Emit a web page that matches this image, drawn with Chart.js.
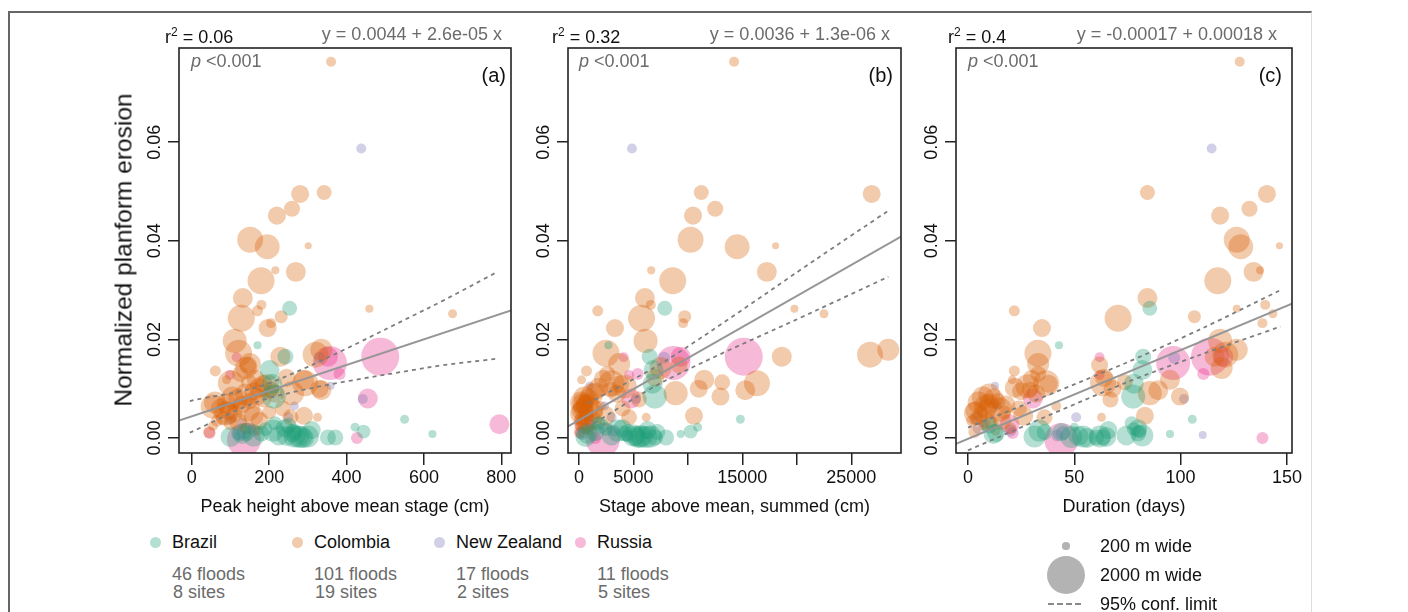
<!DOCTYPE html>
<html>
<head>
<meta charset="utf-8">
<script src="https://cdn.jsdelivr.net/npm/chart.js@4.4.1/dist/chart.umd.min.js"></script>
<style>
body { margin: 0; width: 1408px; height: 612px; overflow: hidden; position: relative; background: #fff;
       font-family: "Liberation Sans", Arial, sans-serif; color: #111; }
canvas { position: absolute; top: 0; }
.frame { position: absolute; left: 8px; top: 11px; width: 1301px; height: 640px;
         border-top: 2px solid #666; border-left: 2px solid #666; border-right: 1px solid #ddd; }
.t { position: absolute; font-size: 18px; line-height: 18px; white-space: nowrap; z-index: 2; }
.grey { color: #6b6b6b; }
.dot { position: absolute; border-radius: 50%; z-index: 2; }
</style>
</head>
<body>
<div class="frame"></div>
<canvas id="chartA" width="421" height="530" style="left:109px"></canvas>
<canvas id="chartB" width="422" height="530" style="left:498px"></canvas>
<canvas id="chartC" width="434" height="530" style="left:886px"></canvas>
<div id="overlay"></div>

<script>
// country groups
const countries = ['Brazil', 'Colombia', 'New Zealand', 'Russia'];
const countryColors = ['rgba(27,158,119,0.33)', 'rgba(217,95,2,0.33)', 'rgba(117,112,179,0.33)', 'rgba(231,41,138,0.33)'];
const floodCounts = [46, 101, 17, 11];
const siteCounts = [8, 19, 2, 5];

// Brazil floods
const brazilErosion = [0.0263,0.0188,0.0165,0.0138,0.0110,0.0084,0.0038,0.0008,0.0022,0.0013,0.0001,0.0001,0.0003,0.0002,0.0015,0.0020,0.0005,0.0010,0.0025,0.0003,0.0012,0.0008,0.0018,0.0030,0.0005,0.0002,0.0000,0.0012,0.0004,0.0016,0.0009,0.0003];
const brazilWidth = [660,260,720,950,950,1190,310,260,310,600,720,720,1070,1070,1070,840,950,840,720,1070,840,950,600,600,1070,950,950,720,950,840,720,1070];
const brazilPeak = [253,170,242,201,208,212,550,622,422,444,352,371,275,282,210,240,225,260,250,300,140,130,190,215,160,100,290,265,245,310,180,265];
const brazilStage = [7880,2710,6500,6850,6760,6970,14820,9340,10900,10250,8000,7000,5800,6200,3560,4000,3000,4500,2000,6600,1500,800,2500,1800,5000,600,5400,7200,5200,6300,4200,5600];
const brazilDuration = [85.5,42.8,82.4,82,78,77.7,105.5,95,50,80.8,63.5,60.4,54.1,48.6,33.6,80,74.5,13.2,10,31.3,43.9,12,78,77,82,65,56,36,52,66,80,62];

// Colombia floods
const colombiaErosion = [0.0763,0.0498,0.0495,0.0465,0.0451,0.0402,0.0388,0.0390,0.0340,0.0337,
  0.0319,0.0284,0.0243,0.0258,0.0246,0.0223,0.0233,0.0197,0.0172,0.0262,
  0.0252,0.0270,0.0179,0.0169,0.0165,0.0111,0.0097,0.0113,0.0084,0.0091,
  0.0045,0.0042,0.0148,0.0111,0.0064,0.0050,0.0136,0.0142,0.0072,0.0060,
  0.0055,0.0048,0.0040,0.0035,0.0080,0.0088,0.0095,0.0102,0.0075,0.0068,
  0.0030,0.0025,0.0020,0.0015,0.0012,0.0120,0.0130,0.0150,0.0105,0.0090,
  0.0060,0.0042,0.0078,0.0122,0.0065,0.0118,0.0035,0.0100,0.0118,
  0.0058,0.0082,0.0045,0.0110,0.0070,0.0033,0.0098,0.0052];
const colombiaWidth = [370,660,840,720,840,1300,1240,200,260,950,
  1360,950,1360,430,550,840,370,1190,1360,260,
  310,370,1070,1300,950,1300,950,720,840,1190,
  840,310,780,1300,1190,1190,430,1070,1070,950,
  840,720,600,490,950,1070,840,950,720,840,
  600,370,490,370,490,840,720,1070,1190,840,
  720,720,720,840,370,310,840,840,950,
  1190,1070,950,840,950,840,720,600];
const colombiaPeak = [360,342,280,259,220,151,195,301,216,269,
  179,132,128,170,231,196,205,111,121,459,
  674,180,335,320,229,293,335,148,169,259,
  290,325,146,101,54,89,61,140,60,75,
  95,110,80,65,120,140,160,175,150,130,
  100,55,140,170,45,165,125,150,195,215,
  235,255,185,245,110,90,175,330,290,
  145,105,160,185,90,120,205,200];
const colombiaStage = [14240,11230,26870,12510,10470,10250,14520,18050,6640,17250,
  8610,6060,5750,1730,9710,3310,9560,6120,2490,19780,
  22490,6600,28390,26720,18620,16340,15270,13150,12990,8880,
  10560,6180,9190,3000,800,300,700,7500,200,400,
  150,600,250,100,900,1200,1500,1800,700,500,
  350,50,800,1000,80,2200,2600,3700,4200,3500,
  4000,4600,5500,7000,2000,250,1300,11000,11500,
  1100,500,2400,3800,300,700,2900,1600];
const colombiaDuration = [127.8,84.4,140.6,132.4,118.6,126.4,128.3,146.5,137.4,134.3,
  117.5,84.4,70.6,21.8,106.5,34.8,138.5,118.6,32.9,126.4,
  143.4,139.8,126.4,121,116,63.5,89.5,73.7,99.7,85.5,
  83.2,62.8,61.9,36.8,8.5,3.8,21.8,119.3,5,9,
  3,6,4,2,12,10,25,22,14,18,
  11,7,20,13,3,30,33,33,28,32,
  24,36,67,64,41.5,20.8,16,68,95,
  15,7,26,38,10,9,29,17];

// New Zealand floods
const nzErosion = [0.0587,0.0106,0.0065,0.0042,0.0079,0.0006,0.0010,0.0020,0.0030,0.0163,0.0040,0.0015,0.0005];
const nzWidth = [370,260,310,370,370,260,600,490,370,490,490,490,490];
const nzPeak = [438,359,265,250,442,140,120,150,130,330,100,160,125];
const nzStage = [4870,980,2350,3000,5230,6120,300,500,900,7820,1000,3200,4400];
const nzDuration = [114.6,12.7,13.7,50.9,101.6,110.4,44.7,5,8,97,4,20,42];

// Russia floods
const russiaErosion = [0.0165,0.0152,0.0165,0.0130,0.0080,0.0000,0.0028,0.0164,0.0128,0.0010,-0.0004];
const russiaWidth = [2000,1770,950,490,950,490,950,370,370,490,1770];
const russiaPeak = [487,357,352,382,455,427,795,116,99,46,135];
const russiaStage = [15130,8670,9340,5390,4780,1500,520,4110,4600,200,2190];
const russiaDuration = [113.8,96.5,120.1,110.7,30.5,138.5,19.5,61.9,61.9,21,43.9];

// axes
const yTicks = [0, 0.02, 0.04, 0.06];
const xTicksA = [0, 200, 400, 600, 800];
const xLabelsA = ['0', '200', '400', '600', '800'];
const xTicksB = [0, 5000, 10000, 15000, 20000, 25000];
const xLabelsB = ['0', '5000', '', '15000', '', '25000'];
const xTicksC = [0, 50, 100, 150];
const xLabelsC = ['0', '50', '100', '150'];

// fitted lines and 95% confidence limits
const fitIntercept = [0.0044, 0.0036, -0.00017];
const fitSlope = [2.6e-5, 1.26e-6, 0.00018];
const rSquared = ['0.06', '0.32', '0.4'];
const fitLabels = ['y = 0.0044 + 2.6e-05 x', 'y = 0.0036 + 1.3e-06 x', 'y = -0.00017 + 0.00018 x'];
const ciXA = [-5, 200, 610, 790];
const ciUpperA = [0.0075, 0.0111, 0.0263, 0.0337];
const ciLowerA = [0.0011, 0.0081, 0.0143, 0.0161];
const ciXB = [800, 8000, 21800, 28400];
const ciUpperB = [0.0070, 0.0157, 0.0363, 0.0461];
const ciLowerB = [0.0022, 0.0117, 0.0259, 0.0327];
const ciXC = [0, 73, 110, 147];
const ciUpperC = [0.0021, 0.0150, 0.0222, 0.0300];
const ciLowerC = [-0.0025, 0.0110, 0.0170, 0.0226];

// bubble size from channel width (m)
function widthToRadius(w) {
    return 1.8 + 0.0086 * w;
}

Chart.defaults.font.family = '"Liberation Sans", Arial, sans-serif';
Chart.defaults.color = '#111';

const groups = [
    { erosion: brazilErosion, width: brazilWidth, x: [brazilPeak, brazilStage, brazilDuration] },
    { erosion: colombiaErosion, width: colombiaWidth, x: [colombiaPeak, colombiaStage, colombiaDuration] },
    { erosion: nzErosion, width: nzWidth, x: [nzPeak, nzStage, nzDuration] },
    { erosion: russiaErosion, width: russiaWidth, x: [russiaPeak, russiaStage, russiaDuration] }
];

const boxPlugin = {
    id: 'box',
    afterDraw(chart) {
        const { ctx, chartArea: a } = chart;
        ctx.save();
        ctx.strokeStyle = '#222';
        ctx.lineWidth = 1.6;
        ctx.strokeRect(a.left, a.top, a.right - a.left, a.bottom - a.top);
        ctx.restore();
    }
};

function makePanel(canvasId, p, xMin, xMax, xTicks, xLabels, xTitle, ciX, ciUp, ciLow, padRight) {
    const datasets = [];
    const lineY = x => fitIntercept[p] + fitSlope[p] * x;
    datasets.push({
        type: 'line', data: [{ x: xMin, y: lineY(xMin) }, { x: xMax, y: lineY(xMax) }],
        borderColor: 'rgb(150,150,150)', borderWidth: 2, pointRadius: 0, order: 0, clip: 0
    });
    [ciUp, ciLow].forEach(arr => {
        datasets.push({
            type: 'line', data: ciX.map((x, i) => ({ x: x, y: arr[i] })),
            borderColor: 'rgb(125,125,125)', borderWidth: 1.8, borderDash: [4, 4],
            pointRadius: 0, tension: 0.3, order: 0, clip: 0
        });
    });
    groups.forEach((g, i) => {
        datasets.push({
            type: 'bubble', label: countries[i],
            data: g.erosion.map((y, k) => ({ x: g.x[p][k], y: y, r: widthToRadius(g.width[k]) })),
            backgroundColor: countryColors[i], borderWidth: 0, hoverBorderWidth: 0, order: 1, clip: 0
        });
    });

    new Chart(document.getElementById(canvasId), {
        type: 'bubble',
        data: { datasets: datasets },
        options: {
            responsive: false,
            animation: false,
            events: [],
            layout: { padding: { top: 48, right: padRight, bottom: 0, left: 0 } },
            plugins: { legend: { display: false }, tooltip: { enabled: false } },
            scales: {
                x: {
                    type: 'linear', min: xMin, max: xMax,
                    afterBuildTicks: s => { s.ticks = xTicks.map(v => ({ value: v })); },
                    afterFit: s => { s.height = 77; },
                    ticks: { autoSkip: false, maxRotation: 0, padding: 2, color: '#111', font: { size: 18 },
                             callback: (v, i) => xLabels[i] },
                    grid: { drawOnChartArea: false, drawTicks: true, tickLength: 12, color: '#222', lineWidth: 1.5 },
                    border: { display: false },
                    title: { display: true, text: xTitle, color: '#111', font: { size: 18 }, padding: { top: 0, bottom: 12 } }
                },
                y: {
                    type: 'linear', min: -0.00304, max: 0.0791,
                    afterBuildTicks: s => { s.ticks = yTicks.map(v => ({ value: v })); },
                    afterFit: s => { s.width = 70; },
                    ticks: { minRotation: 90, maxRotation: 90, crossAlign: 'center', padding: -5, color: '#111',
                             font: { size: 18 }, callback: v => v.toFixed(2) },
                    grid: { drawOnChartArea: false, drawTicks: true, tickLength: 11, color: '#222', lineWidth: 1.5 },
                    border: { display: false }
                }
            }
        },
        plugins: [boxPlugin]
    });
}

makePanel('chartA', 0, -33, 825, xTicksA, xLabelsA, 'Peak height above mean stage (cm)', ciXA, ciUpperA, ciLowerA, 15);
makePanel('chartB', 1, -1000, 29560, xTicksB, xLabelsB, 'Stage above mean, summed (cm)', ciXB, ciUpperB, ciLowerB, 17);
makePanel('chartC', 2, -5.64, 152.4, xTicksC, xLabelsC, 'Duration (days)', ciXC, ciUpperC, ciLowerC, 28);

// text around the panels
const overlay = document.getElementById('overlay');
function addText(html, css, cls) {
    const d = document.createElement('div');
    d.className = 't' + (cls ? ' ' + cls : '');
    d.innerHTML = html;
    Object.assign(d.style, css);
    overlay.appendChild(d);
    return d;
}
function addDot(cx, cy, r, color) {
    const d = document.createElement('div');
    d.className = 'dot';
    Object.assign(d.style, { left: (cx - r) + 'px', top: (cy - r) + 'px', width: 2 * r + 'px', height: 2 * r + 'px', background: color });
    overlay.appendChild(d);
}

const r2Left = [165, 552, 948];
const eqRight = [502, 890, 1277];
const pLeft = [191, 579, 968];
const tagRight = [506, 893, 1282];
const tags = ['(a)', '(b)', '(c)'];
for (let i = 0; i < 3; i++) {
    addText('r<span style="font-size:12px;vertical-align:7px">2</span> = ' + rSquared[i], { left: r2Left[i] + 'px', top: '23px' });
    addText(fitLabels[i], { right: (1408 - eqRight[i]) + 'px', top: '25px' }, 'grey');
    addText('<i>p</i> &lt;0.001', { left: pLeft[i] + 'px', top: '52px' }, 'grey');
    addText(tags[i], { right: (1408 - tagRight[i]) + 'px', top: '65px', fontSize: '20px', lineHeight: '20px' });
}

const yTitle = addText('Normalized planform erosion', { left: '123px', top: '250px', fontSize: '24.5px', lineHeight: '25px' });
yTitle.style.transform = 'translate(-50%, -50%) rotate(-90deg)';

// country legend
const legendDotX = [155, 297, 439, 580];
const legendTextX = [172, 314, 456, 597];
countries.forEach((c, i) => {
    addDot(legendDotX[i], 542, 5.5, countryColors[i]);
    addText(c, { left: legendTextX[i] + 'px', top: '533px' });
    addText(floodCounts[i] + ' floods', { left: legendTextX[i] + 'px', top: '565px' }, 'grey');
    addText(siteCounts[i] + ' sites', { left: (legendTextX[i] + 1) + 'px', top: '583px' }, 'grey');
});

// size legend
addDot(1066, 546, widthToRadius(200), 'rgb(179,179,179)');
addDot(1066, 575, widthToRadius(2000), 'rgb(179,179,179)');
addText('200 m wide', { left: '1100px', top: '537px' });
addText('2000 m wide', { left: '1100px', top: '566px' });
addText('95% conf. limit', { left: '1100px', top: '595px' });
const dash = document.createElement('div');
Object.assign(dash.style, { position: 'absolute', left: '1048px', top: '603px', width: '33px', height: '0',
                            borderTop: '2px dashed #8a8a8a' });
overlay.appendChild(dash);
</script>
</body>
</html>
